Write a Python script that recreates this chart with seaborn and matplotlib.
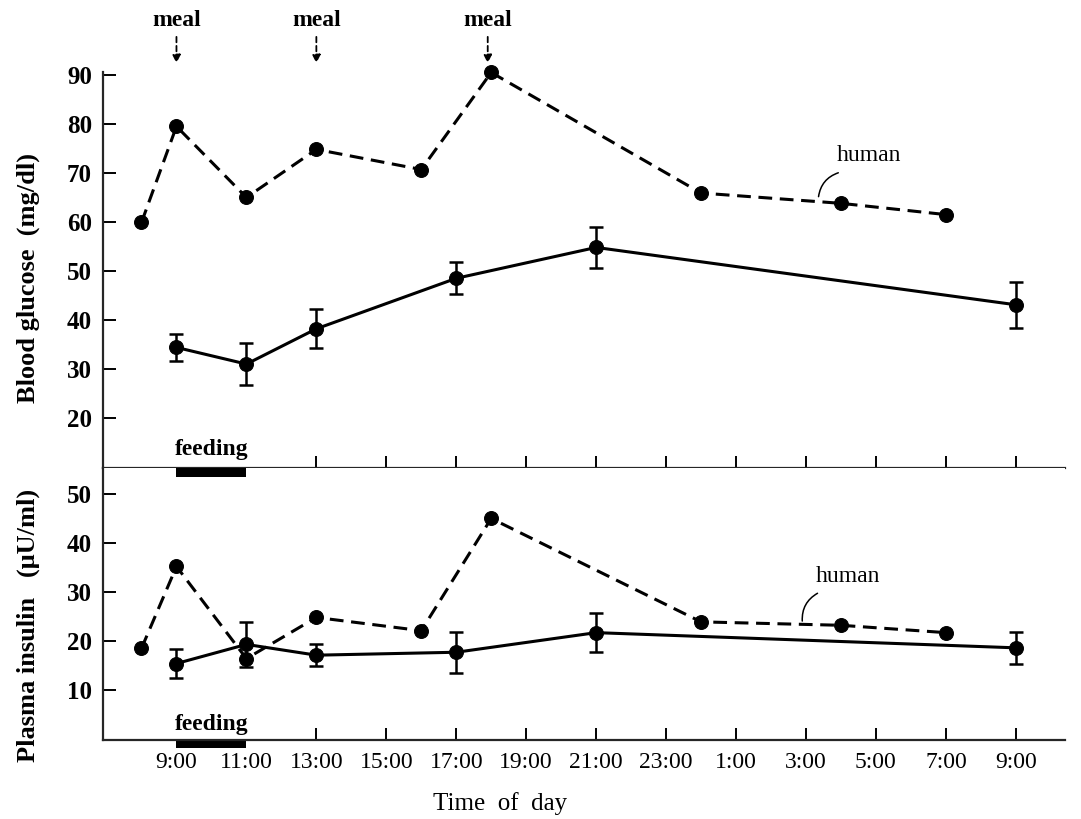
import matplotlib.pyplot as plt
import seaborn as sns

# ==========================================
# 1. DATA
# ==========================================
# hours from midnight of day 1 (24 = 0:00, 33 = 9:00 next morning)
human_hours = [8, 9, 11, 13, 16, 18, 24, 28, 31]
human_glucose = [59.9, 79.5, 65.0, 74.8, 70.7, 90.5, 65.9, 63.8, 61.5]
human_insulin = [18.5, 35.2, 16.4, 24.8, 22.1, 45.0, 23.9, 23.2, 21.7]

rat_hours = [9, 11, 13, 17, 21, 33]
rat_glucose = [34.4, 31.0, 38.2, 48.5, 54.8, 43.1]
rat_glucose_err = [2.8, 4.3, 4.0, 3.3, 4.2, 4.7]
rat_insulin = [15.4, 19.3, 17.1, 17.7, 21.7, 18.6]
rat_insulin_err = [2.9, 4.6, 2.3, 4.2, 4.0, 3.2]

meal_hours = [9, 13, 17.9]
feeding_start, feeding_end = 9, 11

tick_hours = list(range(9, 34, 2))
tick_labels = [f"{h % 24}:00" for h in tick_hours]
glucose_ticks = list(range(20, 91, 10))
insulin_ticks = list(range(10, 51, 10))

# ==========================================
# 2. STYLE
# ==========================================
sns.set_theme(style="ticks")
plt.rcParams['font.family'] = ['Liberation Serif', 'DejaVu Serif']
plt.rcParams['axes.linewidth'] = 1.6
plt.rcParams['text.color'] = 'black'
plt.rcParams['axes.labelcolor'] = 'black'

fig = plt.figure(figsize=(10.81, 8.19), dpi=100)
ax1 = fig.add_axes([0.0953, 0.4286, 0.8897, 0.4835])
ax2 = fig.add_axes([0.0953, 0.0965, 0.8897, 0.3321])

dash = (0, (4.5, 2.5))


def draw_panel(ax, human_vals, rat_vals, rat_err):
    sns.lineplot(x=human_hours, y=human_vals, ax=ax, color='black', lw=2.2,
                 linestyle=dash, marker='o', markersize=10, clip_on=False,
                 markeredgecolor='black', markerfacecolor='black')
    sns.lineplot(x=rat_hours, y=rat_vals, ax=ax, color='black', lw=2.2,
                 marker='o', markersize=10, clip_on=False,
                 markeredgecolor='black', markerfacecolor='black')
    ax.errorbar(rat_hours, rat_vals, yerr=rat_err, fmt='none', ecolor='black',
                elinewidth=1.8, capsize=5, capthick=1.8)
    ax.set_xlim(6.9, 34.4)
    ax.set_xticks(tick_hours)
    ax.tick_params(direction='in', length=9, width=1.4, colors='black')
    ax.tick_params(axis='y', labelsize=18, pad=8)
    for s in ['top', 'right']:
        ax.spines[s].set_visible(False)
    ax.set_facecolor('white')
    # no tick marks inside the feeding period
    for tick, h in zip(ax.xaxis.get_major_ticks(), tick_hours):
        if feeding_start <= h <= feeding_end:
            tick.tick1line.set_visible(False)


# ==========================================
# 3. TOP PANEL: BLOOD GLUCOSE
# ==========================================
draw_panel(ax1, human_glucose, rat_glucose, rat_glucose_err)
ax1.set_ylim(9.8, 90.6)
ax1.set_yticks(glucose_ticks)
ax1.set_yticklabels([str(v) for v in glucose_ticks], fontweight='bold')
ax1.set_xticklabels([])
ax1.set_ylabel("Blood glucose  (mg/dl)", fontsize=19, fontweight='bold')
ax1.yaxis.set_label_coords(-0.066, 0.48)

for t in meal_hours:
    ax1.annotate("meal", xy=(t, 92.4), xytext=(t, 99.0), ha='center', va='bottom',
                 fontsize=17, fontweight='bold', annotation_clip=False,
                 arrowprops=dict(arrowstyle='-|>', color='black', lw=1.3,
                                 linestyle=(0, (3, 2)), mutation_scale=12,
                                 shrinkA=2, shrinkB=0))

ax1.text((feeding_start + feeding_end) / 2, 13.5, "feeding", ha='center',
         va='center', fontsize=17, fontweight='bold')
ax1.text(28.8, 73.6, "human", ha='center', va='center', fontsize=17)
ax1.annotate("", xy=(27.35, 64.6), xytext=(28.0, 70.2),
             arrowprops=dict(arrowstyle='-', color='black', lw=1.1,
                             connectionstyle='arc3,rad=0.35'))

# ==========================================
# 4. BOTTOM PANEL: PLASMA INSULIN
# ==========================================
draw_panel(ax2, human_insulin, rat_insulin, rat_insulin_err)
ax2.set_ylim(-0.2, 55.3)
ax2.set_yticks(insulin_ticks)
ax2.set_yticklabels([str(v) for v in insulin_ticks], fontweight='bold')
ax2.set_xticklabels(tick_labels, fontsize=17)
ax2.tick_params(axis='x', pad=9)
ax2.set_ylabel("Plasma insulin   (\u03bcU/ml)", fontsize=19, fontweight='bold')
ax2.yaxis.set_label_coords(-0.066, 0.42)

# feeding bars: one under the shared line, one under the time axis
ax2.axvspan(feeding_start, feeding_end, ymin=0.965, ymax=1.0, color='black', lw=0)
ax2.axvspan(feeding_start, feeding_end, ymin=-0.03, ymax=0.0, color='black',
            lw=0, clip_on=False)
ax2.text((feeding_start + feeding_end) / 2, 3.0, "feeding", ha='center',
         va='center', fontsize=17, fontweight='bold')
ax2.text(28.2, 33.2, "human", ha='center', va='center', fontsize=17)
ax2.annotate("", xy=(26.9, 23.5), xytext=(27.4, 30.0),
             arrowprops=dict(arrowstyle='-', color='black', lw=1.1,
                             connectionstyle='arc3,rad=0.35'))

fig.text(0.463, 0.0195, "Time  of  day", ha='center', va='center', fontsize=18)

plt.savefig("out.png", dpi=100)
print("saved out.png")
